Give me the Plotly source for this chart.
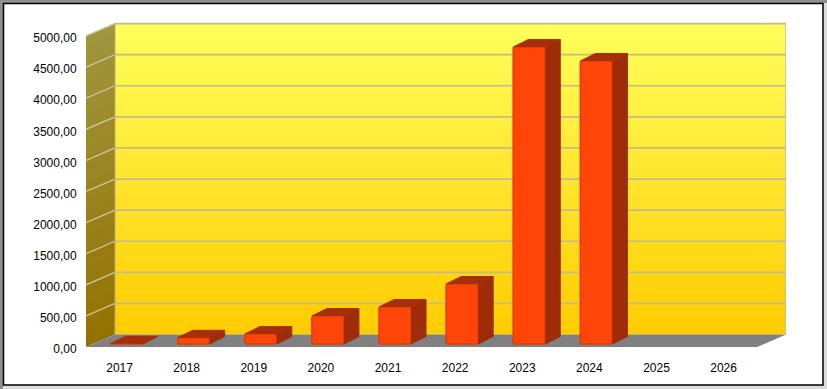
import plotly.graph_objects as go

years = [2017, 2018, 2019, 2020, 2021, 2022, 2023, 2024, 2025, 2026]
values = [5, 100, 160, 450, 595, 965, 4775, 4550, None, None]
y_ticks = list(range(0, 5001, 500))

WALL_DX, WALL_DY = 0.432, 200
BAR_W, BAR_SHIFT, BAR_BASE = 0.477, 0.104, 48
BAR_DX, BAR_DY = 0.224, 120
X0, X1 = 2016.5, 2026.5
Y_TOP = 5000
PW, PH = 700, 334

def mix(a, b, t):
    return "rgb(%d,%d,%d)" % tuple(round(a[i] + (b[i] - a[i]) * t) for i in range(3))

def px(x):
    return (x - 86) / PW

def py(y):
    return (347 - y) / PH

shapes = []
# outer shaded strips and frame
shapes.append(dict(type="rect", xref="paper", yref="paper", x0=px(0), x1=px(827), y0=py(0), y1=py(3),
                   fillcolor="#8f8f8f", line=dict(width=0), layer="below"))
shapes.append(dict(type="rect", xref="paper", yref="paper", x0=px(0), x1=px(3), y0=py(0), y1=py(389),
                   fillcolor="#8f8f8f", line=dict(width=0), layer="below"))
shapes.append(dict(type="rect", xref="paper", yref="paper", x0=px(3.5), x1=px(823), y0=py(385), y1=py(3.5),
                   line=dict(color="#000", width=1.5), fillcolor="#fff", layer="below"))
# gradient walls as painted-over bands
N = 36
for i in range(N):
    c_back = mix((255, 204, 0), (255, 255, 92), (i + .5) / N)
    c_left = mix((148, 114, 0), (160, 150, 62), (i + .5) / N)
    v0 = Y_TOP * i / N
    shapes.append(dict(type="rect", x0=X0 + WALL_DX, x1=X1 + WALL_DX, y0=v0 + WALL_DY, y1=Y_TOP + WALL_DY,
                       fillcolor=c_back, line=dict(width=0), layer="below"))
    shapes.append(dict(type="path", path=f"M {X0},{v0} L {X0+WALL_DX},{v0+WALL_DY} L {X0+WALL_DX},{Y_TOP+WALL_DY} L {X0},{Y_TOP} Z",
                       fillcolor=c_left, line=dict(width=0), layer="below"))
# floor
shapes.append(dict(type="path", path=f"M {X0},0 L {X1},0 L {X1+WALL_DX},{WALL_DY} L {X0+WALL_DX},{WALL_DY} Z",
                   fillcolor="#808080", line=dict(width=0), layer="below"))
# grid lines
GRID = "#c4bb8c"
for v in y_ticks[1:]:
    shapes.append(dict(type="line", x0=X0 + WALL_DX, x1=X1 + WALL_DX, y0=v + WALL_DY, y1=v + WALL_DY,
                       line=dict(color=GRID, width=1.7), layer="below"))
    shapes.append(dict(type="line", x0=X0, x1=X0 + WALL_DX, y0=v, y1=v + WALL_DY,
                       line=dict(color="#cfc79c", width=1.3), layer="below"))
shapes.append(dict(type="line", x0=X1 + WALL_DX, x1=X1 + WALL_DX, y0=WALL_DY, y1=Y_TOP + WALL_DY,
                   line=dict(color=GRID, width=1.7), layer="below"))
shapes.append(dict(type="line", x0=X0 + WALL_DX, x1=X0 + WALL_DX, y0=WALL_DY, y1=Y_TOP + WALL_DY,
                   line=dict(color="#b5ad80", width=1), layer="below"))

side_x, side_y, top_x, top_y = [], [], [], []
for yr, v in zip(years, values):
    if v is None:
        continue
    c = yr + BAR_SHIFT
    l, r = c - BAR_W / 2, c + BAR_W / 2
    t = BAR_BASE + v
    side_x += [r, r + BAR_DX, r + BAR_DX, r, None]
    side_y += [BAR_BASE, BAR_BASE + BAR_DY, t + BAR_DY, t, None]
    top_x += [l, l + BAR_DX, r + BAR_DX, r, None]
    top_y += [t, t + BAR_DY, t + BAR_DY, t, None]

fig = go.Figure()
fig.add_bar(x=years, y=values, base=BAR_BASE, width=BAR_W, offset=BAR_SHIFT - BAR_W / 2,
            marker=dict(color="#ff4608", line=dict(color="#e23c06", width=1.5)), hoverinfo="skip")
fig.add_scatter(x=side_x, y=side_y, mode="lines", fill="toself", fillcolor="#9e2c08",
                line=dict(color="#9e2c08", width=1), hoverinfo="skip")
fig.add_scatter(x=top_x, y=top_y, mode="lines", fill="toself", fillcolor="#a62e08",
                line=dict(color="#a62e08", width=1), hoverinfo="skip")

fig.update_layout(
    width=827, height=389, margin=dict(l=86, r=41, t=13, b=42, pad=0, autoexpand=False),
    paper_bgcolor="#dcdcdc", plot_bgcolor="rgba(0,0,0,0)", showlegend=False, shapes=shapes,
    separators=", ", font=dict(family="Liberation Sans, Arial, sans-serif", size=12, color="#000"),
    barcornerradius=2,
    xaxis=dict(range=[2016.5, 2026.93], tickmode="array", tickvals=years, ticktext=[str(y) for y in years],
               showgrid=False, zeroline=False, showline=False, ticks="outside", ticklen=10,
               tickcolor="rgba(0,0,0,0)"),
    yaxis=dict(range=[0, 5369.8], tickmode="array", tickvals=y_ticks, tickformat=".2f",
               showgrid=False, zeroline=False, showline=False, ticks="outside", ticklen=6,
               tickcolor="rgba(0,0,0,0)", ticklabelshift=2),
)
fig.write_html("out.html", config=dict(displayModeBar=False),
               post_script="document.body.style.margin='0';document.body.style.overflow='hidden';")
